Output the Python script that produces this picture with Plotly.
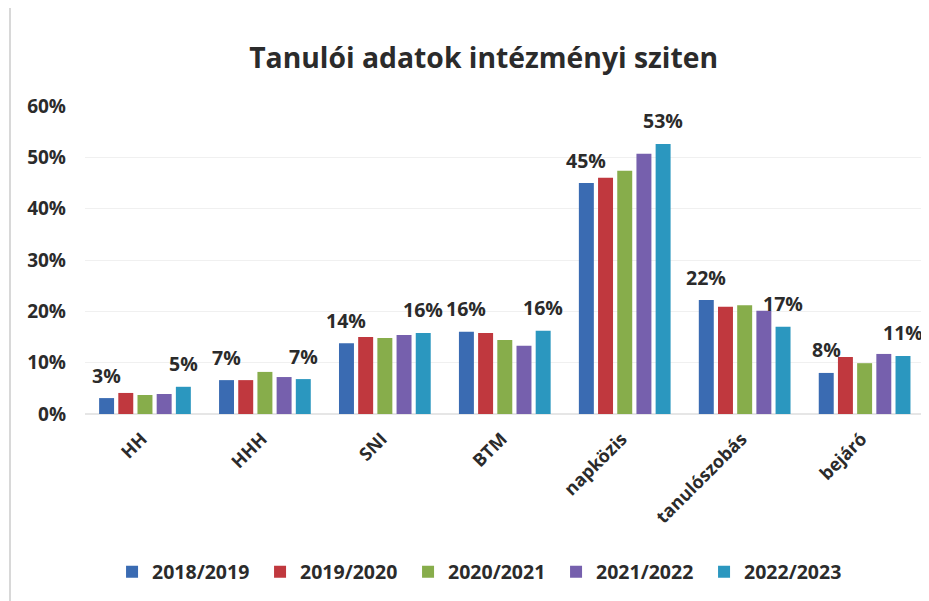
import plotly.graph_objects as go

categories = ["HH", "HHH", "SNI", "BTM", "napközis", "tanulószobás", "bejáró"]
series_names = ["2018/2019", "2019/2020", "2020/2021", "2021/2022", "2022/2023"]
v2018 = [0.031, 0.066, 0.138, 0.160, 0.450, 0.222, 0.080]
v2019 = [0.041, 0.066, 0.150, 0.158, 0.460, 0.209, 0.111]
v2020 = [0.037, 0.082, 0.148, 0.144, 0.474, 0.212, 0.099]
v2021 = [0.039, 0.072, 0.154, 0.133, 0.507, 0.201, 0.117]
v2022 = [0.053, 0.068, 0.158, 0.162, 0.526, 0.170, 0.113]
label_2018 = ["3%", "7%", "14%", "16%", "45%", "22%", "8%"]
label_2022 = ["5%", "7%", "16%", "16%", "53%", "17%", "11%"]
y_ticks = [0, 0.1, 0.2, 0.3, 0.4, 0.5, 0.6]
y_tick_labels = ["0%", "10%", "20%", "30%", "40%", "50%", "60%"]

colors = ["#3A6BB2", "#C0383E", "#87AD4B", "#7660AD", "#2B97BF"]
all_values = [v2018, v2019, v2020, v2021, v2022]

FONT = "'Open Sans', Lato, sans-serif"
TXT = "#2b2b2b"
BARGAP = 0.2
N = len(series_names)

fig = go.Figure()
for name, vals, col in zip(series_names, all_values, colors):
    fig.add_trace(go.Bar(x=categories, y=vals, name=name,
                         marker=dict(color=col, line=dict(width=0))))

# data labels on first and last series, placed above the bars
slot = (1 - BARGAP) / N
for series_idx, vals, labs in [(0, v2018, label_2018), (N - 1, v2022, label_2022)]:
    off = (series_idx - (N - 1) / 2) * slot
    for k, (v, t) in enumerate(zip(vals, labs)):
        fig.add_annotation(x=k + off, y=v, text="<b>%s</b>" % t, showarrow=False,
                           xref="x", yref="y", yanchor="middle", yshift=23,
                           font=dict(family=FONT, size=19.5, color=TXT))

fig.update_layout(
    width=929, height=601,
    paper_bgcolor="white", plot_bgcolor="white",
    barmode="group", bargap=BARGAP, bargroupgap=0.22,
    margin=dict(l=77, r=12, t=98, b=195, autoexpand=False),
    title=dict(text="<b>Tanulói adatok intézményi sziten</b>", x=0.512, xanchor="center",
               xref="container", y=(601 - 50) / 601, yanchor="middle", yref="container",
               font=dict(family=FONT, size=28.3, color=TXT)),
    font=dict(family=FONT, color=TXT),
    legend=dict(orientation="h", x=0.112, xanchor="left", xref="container",
                y=(601 - 564) / 601, yanchor="middle", yref="container",
                font=dict(family=FONT, size=19.5, color=TXT, weight="bold"),
                itemwidth=30, tracegroupgap=0, entrywidth=103, entrywidthmode="pixels"),
    showlegend=True,
)
fig.update_xaxes(tickangle=-45, showgrid=False, showline=False, ticks="",
                 ticklabelstandoff=10, ticklabelshift=-3,
                 tickfont=dict(family=FONT, size=18, color=TXT, weight="bold"))
fig.update_yaxes(range=[0, 0.6], tickvals=y_ticks, ticktext=y_tick_labels,
                 showgrid=True, gridcolor="#f0f0f0", gridwidth=1, zeroline=True,
                 zerolinecolor="#e6e6e6", showline=False, ticks="",
                 ticklabelstandoff=18,
                 tickfont=dict(family=FONT, size=19, color=TXT, weight="bold"))
fig.add_shape(type="line", xref="paper", yref="paper", x0=-0.0893, x1=-0.0893, y0=-0.65, y1=1.4,
              line=dict(color="#d8d8d8", width=2))

fig.write_html("out.html")
